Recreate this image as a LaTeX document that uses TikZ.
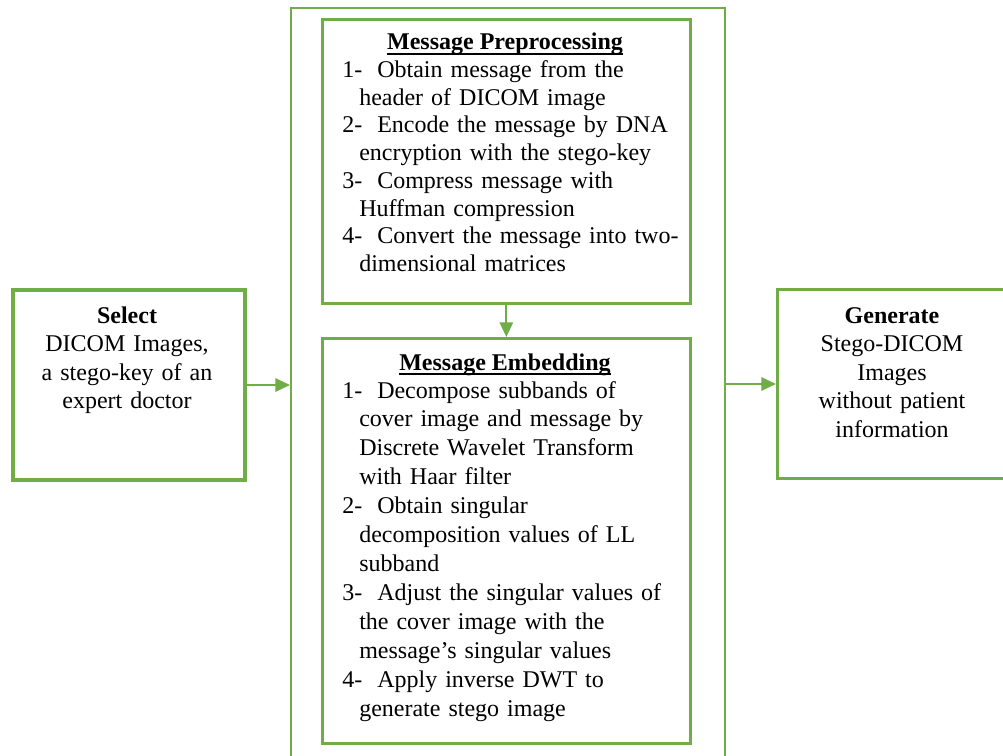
\documentclass[tikz,border=0pt]{standalone}
\usepackage{fontspec}
\setmainfont{Liberation Serif}
\usetikzlibrary{arrows.meta,positioning}
\definecolor{officegreen}{RGB}{112,173,71}
% list helpers
\newcommand\itemnum[1]{\makebox[26.25pt][l]{#1}}
\newcommand\itemcont{\hspace*{12.75pt}}
\newcommand\headline[1]{\bfseries\setbox0\hbox{#1}\rlap{\rule[-3.6pt]{\wd0}{1.4pt}}\box0}
\tikzset{
  frame/.style={draw=officegreen,anchor=north west,inner sep=0pt},
  flow/.style={draw=officegreen,line width=1.5pt,-{Triangle[length=11pt,width=10pt]}},
  sidetext/.style={anchor=base,inner sep=0pt,text width=165pt,align=center,
    font=\fontsize{18}{21.4}\selectfont},
  listtext/.style={anchor=base west,inner sep=0pt,text width=260pt,align=left},
  headtext/.style={anchor=base,inner sep=0pt,font=\fontsize{18}{21}\selectfont}
}

\begin{document}
\begin{tikzpicture}[x=0.75pt,y=-0.75pt]
        % page frame
        \useasboundingbox (0,0) rectangle (1003,756);
        \clip (0,0) rectangle (1003,756);
        % draw boxes
        \node[frame,line width=3pt,minimum width=174pt,minimum height=142.5pt] (select) at (11,288) {};
        \node[frame,line width=1.5pt,minimum width=325.5pt,minimum height=570pt] (core) at (290,7) {};
        \node[frame,line width=2pt,minimum width=276pt,minimum height=213pt] (prep) at (321,18) {};
        \node[frame,line width=2pt,minimum width=276pt,minimum height=303.75pt] (embed) at (321,337) {};
        \node[frame,line width=2.25pt,minimum width=174pt,minimum height=141.75pt] (generate) at (776,288) {};
        % draw texts
        \node[sidetext] (selecttext) at (127,323) {\textbf{Select}\\DICOM Images,\\a stego-key of an\\expert doctor};
        \node[sidetext] (generatetext) at (892,323) {\textbf{Generate}\\Stego-DICOM\\Images\\without patient\\information};
        \node[headtext] (prephead) at (505,50) {\headline{Message Preprocessing}};
        \node[listtext,font=\fontsize{18}{20.8}\selectfont] (preplist) at (342,77.5) {%
          \itemnum{1-}Obtain message from the\\
          \itemcont header of DICOM image\\
          \itemnum{2-}Encode the message by DNA\\
          \itemcont encryption with the stego-key\\
          \itemnum{3-}Compress message with\\
          \itemcont Huffman compression\\
          \itemnum{4-}Convert the message into two-\\
          \itemcont dimensional matrices};
        \node[headtext] (embedhead) at (505,370) {\headline{Message Embedding}};
        \node[listtext,font=\fontsize{18}{21.7}\selectfont] (embedlist) at (342,398) {%
          \itemnum{1-}Decompose subbands of\\
          \itemcont cover image and message by\\
          \itemcont Discrete Wavelet Transform\\
          \itemcont with Haar filter\\
          \itemnum{2-}Obtain singular\\
          \itemcont decomposition values of LL\\
          \itemcont subband\\
          \itemnum{3-}Adjust the singular values of\\
          \itemcont the cover image with the\\
          \itemcont message’s singular values\\
          \itemnum{4-}Apply inverse DWT to\\
          \itemcont generate stego image};
        % draw arrows
        \draw[flow] (select.east) -- (select.east -| core.west);
        \draw[flow] (prep.south) -- (embed.north);
        \draw[flow] (generate.west -| core.east) -- (generate.west);
\end{tikzpicture}
\end{document}
